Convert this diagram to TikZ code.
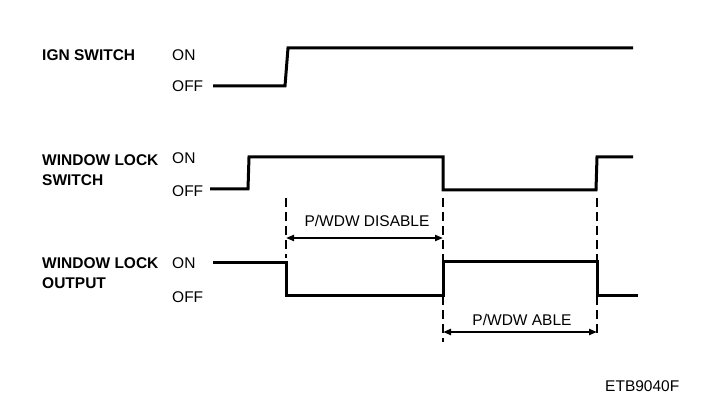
\documentclass[tikz,border=0pt]{standalone}
\usepackage{fontspec}
\setmainfont{Liberation Sans}
\usetikzlibrary{arrows.meta}
\begin{document}
\begin{tikzpicture}[x=1pt,y=-1pt,
  lbl/.style={font=\fontsize{15.5}{19.5}\selectfont\bfseries, anchor=west, inner sep=0pt, align=left},
  st/.style={font=\fontsize{15.5}{18}\selectfont, anchor=west, inner sep=0pt},
  wave/.style={line width=3pt, line join=miter},
  guide/.style={line width=1.8pt, dash pattern=on 9pt off 5pt},
  span/.style={line width=2pt, {Triangle[length=8pt,width=6pt]}-{Triangle[length=8pt,width=6pt]}}]
\useasboundingbox (0,0) rectangle (704,406);
% labels
\node[lbl] (ign) at (42,55) {IGN SWITCH};
\node[st] (ign-on) at (172,55) {ON};
\node[st] (ign-off) at (172,86) {OFF};
\node[lbl] (wls) at (42,170) {WINDOW LOCK\\SWITCH};
\node[st] (wls-on) at (172,158) {ON};
\node[st] (wls-off) at (172,191) {OFF};
\node[lbl] (wlo) at (42,273) {WINDOW LOCK\\OUTPUT};
\node[st] (wlo-on) at (172,263) {ON};
\node[st] (wlo-off) at (172,297) {OFF};
\node[st] (code) at (605,386) {ETB9040F};
% IGN waveform
\coordinate (i0) at (213,86);
\coordinate (i1) at (285,86);
\coordinate (i2) at (288,48);
\coordinate (i3) at (633,48);
\draw[wave] (i0) -- (i1) -- (i2) -- (i3);
% window lock switch
\coordinate (s0) at (210,189);
\coordinate (s1) at (248,189);
\coordinate (s2) at (249,157);
\coordinate (s3) at (443,157);
\coordinate (s4) at (443,190);
\coordinate (s5) at (596,190);
\coordinate (s6) at (597,157);
\coordinate (s7) at (633,157);
\draw[wave] (s0) -- (s1) -- (s2) -- (s3) -- (s4) -- (s5) -- (s6) -- (s7);
% window lock output
\coordinate (o0) at (213,262);
\coordinate (o1) at (286,262);
\coordinate (o2) at (286,295);
\coordinate (o3) at (443,295);
\coordinate (o4) at (443,261);
\coordinate (o5) at (597,261);
\coordinate (o6) at (597,295);
\coordinate (o7) at (638,295);
\draw[wave] (o0) -- (o1) -- (o2) -- (o3) -- (o4) -- (o5) -- (o6) -- (o7);
% dashed guides
\coordinate (g1t) at (286,198); \coordinate (g1b) at (286,258);
\coordinate (g2t) at (443,198); \coordinate (g2b) at (443,342);
\coordinate (g3t) at (597,198); \coordinate (g3b) at (597,336);
\draw[guide] (g1t) -- (g1b);
\draw[guide] (g2t) -- (g2b);
\draw[guide] (g3t) -- (g3b);
% spans
\coordinate (d1) at (286,238); \coordinate (d2) at (443,238);
\draw[span] (d1) -- (d2);
\node[st, anchor=center] (dis) at (367,221) {P/WDW DISABLE};
\coordinate (a1) at (443,332); \coordinate (a2) at (597,332);
\draw[span] (a1) -- (a2);
\node[st, anchor=center] (abl) at (522,320) {P/WDW ABLE};
\end{tikzpicture}
\end{document}
